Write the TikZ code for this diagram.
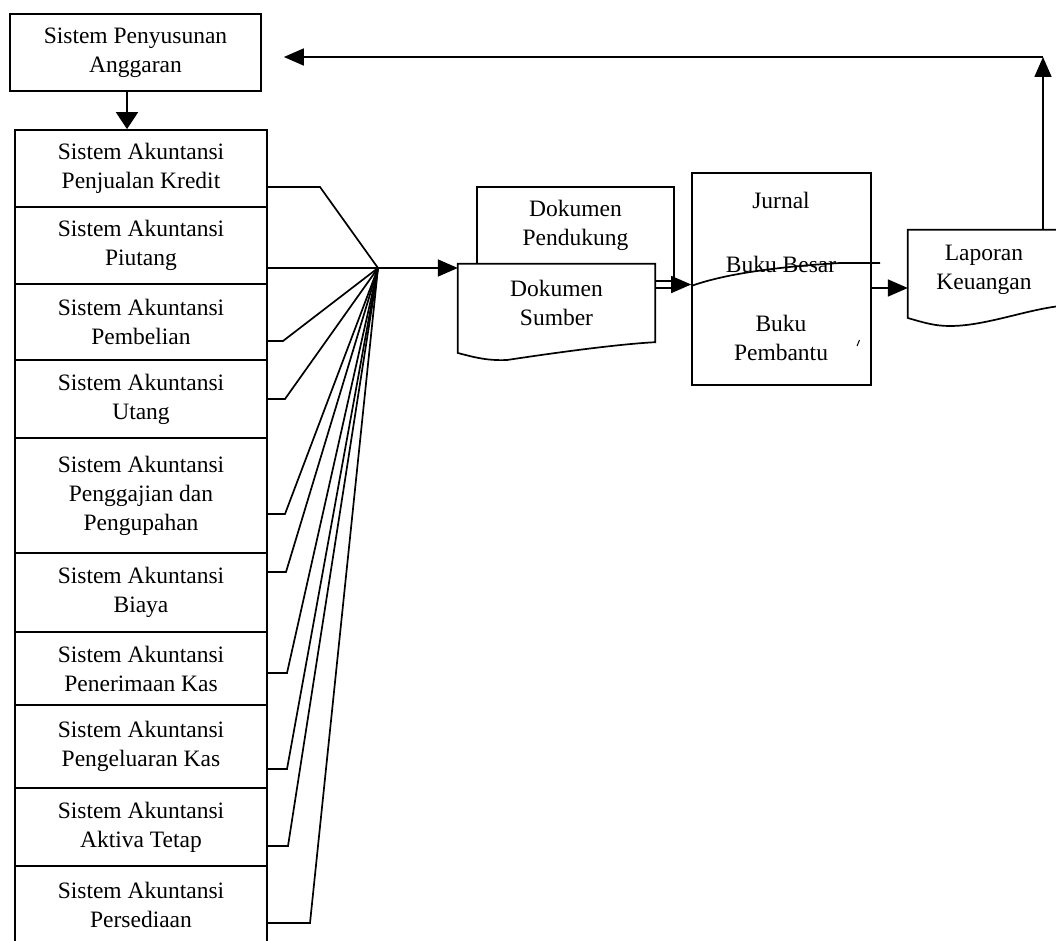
\documentclass[tikz,border=0pt]{standalone}
\usepackage{fontspec}
\setmainfont{Liberation Serif}
\usetikzlibrary{arrows.meta}

\begin{document}
\begin{tikzpicture}[x=1pt,y=-1pt,
  every node/.style={font=\fontsize{23.5}{29}\selectfont, align=center, inner sep=0pt},
  line/.style={line width=1.7pt},
  arr/.style={line width=1.7pt, -{Triangle[length=20pt,width=17pt]}},
  box/.style={draw, line width=1.7pt, minimum width=252pt},
  holder/.style={minimum width=197pt}
]
\useasboundingbox (0,0) rectangle (1056,941);

% budget system at the top
\node[box, minimum width=251pt, minimum height=77pt] (top) at (135.5,52.5) {Sistem Penyusunan\\Anggaran};

% column of accounting subsystems
\node[box, minimum height=77pt]  (b1)  at (141,168.5) {Sistem Akuntansi\\Penjualan Kredit};
\node[box, minimum height=77pt]  (b2)  at (141,245.5) {Sistem Akuntansi\\Piutang};
\node[box, minimum height=76pt]  (b3)  at (141,322)   {Sistem Akuntansi\\Pembelian};
\node[box, minimum height=78pt]  (b4)  at (141,399)   {Sistem Akuntansi\\Utang};
\node[box, minimum height=115pt] (b5)  at (141,495.5) {Sistem Akuntansi\\Penggajian dan\\Pengupahan};
\node[box, minimum height=79pt]  (b6)  at (141,592.5) {Sistem Akuntansi\\Biaya};
\node[box, minimum height=73pt]  (b7)  at (141,668.5) {Sistem Akuntansi\\Penerimaan Kas};
\node[box, minimum height=83pt]  (b8)  at (141,746.5) {Sistem Akuntansi\\Pengeluaran Kas};
\node[box, minimum height=78pt]  (b9)  at (141,827)   {Sistem Akuntansi\\Aktiva Tetap};
\node[box, minimum height=78pt]  (b10) at (141,905)   {Sistem Akuntansi\\Persediaan};

\draw[arr, -{Triangle[length=17pt,width=22pt]}] (top.south -| 127,0) -- (b1.north -| 127,0);

% all subsystems converge into one point
\coordinate (hub) at (378,268);
\draw[line] (b1.east |- 0,187) -- (320,187) -- (hub);
\draw[line] (b2.east |- 0,268) -- (hub);
\draw[line] (b3.east |- 0,341) -- (283,341) -- (hub);
\draw[line] (b4.east |- 0,399) -- (285,399) -- (hub);
\draw[line] (b5.east |- 0,514) -- (285,514) -- (hub);
\draw[line] (b6.east |- 0,572) -- (286,572) -- (hub);
\draw[line] (b7.east |- 0,673) -- (287,673) -- (hub);
\draw[line] (b8.east |- 0,769) -- (287,769) -- (hub);
\draw[line] (b9.east |- 0,846) -- (288,846) -- (hub);
\draw[line] (b10.east |- 0,923) -- (310,923) -- (hub);

% supporting and source documents
\node[holder, minimum height=77pt] (pendukung) at (575.5,225.5) {Dokumen\\Pendukung};
\draw[line] (pendukung.south west) -- (pendukung.north west) -- (pendukung.north east) -- (pendukung.north east |- 0,283);

\node[holder, minimum height=78pt] (sumber) at (556.5,303) {};
\draw[line, fill=white] (sumber.north west) -- (sumber.north east) -- (sumber.south east)
  .. controls (620,344) and (560,352) .. (507,360)
  .. controls (485,361) and (470,356) .. (sumber.south west |- 0,353) -- cycle;
\node at (sumber) {Dokumen\\Sumber};

\draw[arr] (hub) -- (sumber.west |- hub);

% journal and ledgers
\node[box, minimum width=179pt, minimum height=212pt] (jurnal) at (781.5,279) {};
\node (jtxt) at (781,200) {Jurnal};
\node (btxt) at (781,264) {Buku Besar};
\node (ptxt) at (781,338) {Buku\\Pembantu};
\draw[line width=1pt] (857,346) -- (859.5,340);

\draw[line] (sumber.east |- 0,281) -- (674,281);
\draw[line] (sumber.east |- 0,288) -- (674,288);
\draw[arr] (672,284.5) -- (jurnal.west |- 0,284.5);
\draw[line] (jurnal.west |- 0,286) .. controls (730,272) and (790,266) .. (840,263) -- (880,263);

% financial report
\node[minimum width=152pt, minimum height=80pt] (laporan) at (984,270) {Laporan\\Keuangan};
\draw[line] (laporan.south east |- 0,306) -- (laporan.north east) -- (laporan.north west)
  -- (laporan.south west |- 0,318)
  .. controls (925,323) and (935,326) .. (950,326)
  .. controls (985,326) and (1025,310) .. (1060,306);

\draw[arr] (jurnal.east |- 0,288) -- (laporan.west |- 0,288);

% feedback to the budget system
\coordinate (corner) at (1043,57);
\draw[arr] (laporan.north -| corner) -- (corner);
\draw[arr, shorten >=22pt] (corner) -- (top.east |- corner);
\end{tikzpicture}
\end{document}
